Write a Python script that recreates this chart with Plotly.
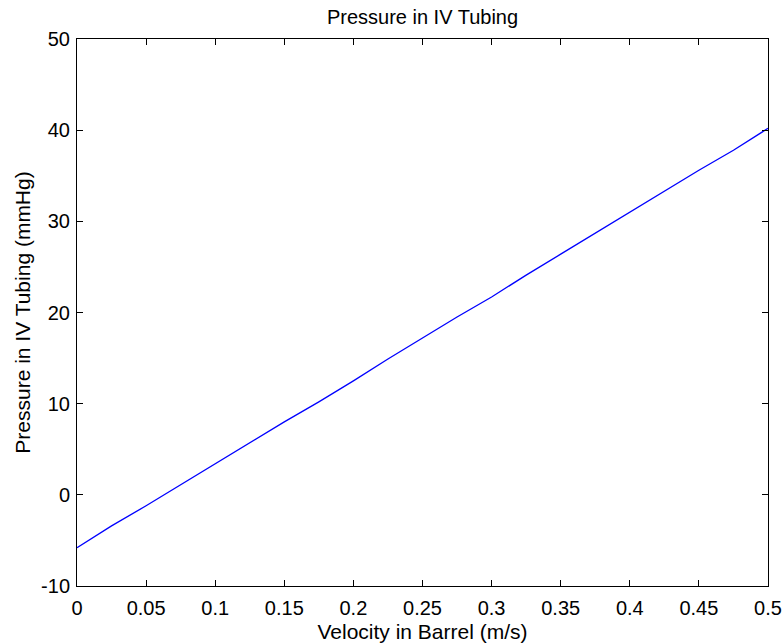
import plotly.graph_objects as go

velocity = [0, 0.025, 0.05, 0.075, 0.1, 0.125, 0.15, 0.175, 0.2, 0.225, 0.25,
            0.275, 0.3, 0.325, 0.35, 0.375, 0.4, 0.425, 0.45, 0.475, 0.5]
pressure = [-5.8, -3.4, -1.2, 1.1, 3.4, 5.7, 8.0, 10.2, 12.5, 14.9, 17.2,
            19.5, 21.7, 24.1, 26.4, 28.7, 31.0, 33.3, 35.6, 37.8, 40.2]

x_ticks = [0, 0.05, 0.1, 0.15, 0.2, 0.25, 0.3, 0.35, 0.4, 0.45, 0.5]
x_labels = ["0", "0.05", "0.1", "0.15", "0.2", "0.25", "0.3", "0.35", "0.4", "0.45", "0.5"]
y_ticks = [-10, 0, 10, 20, 30, 40, 50]
y_labels = ["-10", "0", "10", "20", "30", "40", "50"]

FONT = "Liberation Sans, Arial"
W, H = 783, 643
L, R, T, B = 77, 15, 39, 57

fig = go.Figure(go.Scatter(x=velocity, y=pressure, mode="lines",
                           line=dict(color="#0000ff", width=1.3)))

axis_common = dict(showline=True, linecolor="black", linewidth=1, mirror="ticks",
                   ticks="inside", ticklen=6, tickcolor="black", tickwidth=1,
                   showgrid=False, zeroline=False, automargin=False,
                   tickfont=dict(family=FONT, size=20, color="black"))

fig.update_layout(
    width=W, height=H,
    margin=dict(l=L, r=R, t=T, b=B),
    paper_bgcolor="white", plot_bgcolor="white",
    showlegend=False,
    title=dict(text="Pressure in IV Tubing", x=(L + W - R) / 2 / W, xanchor="center",
               y=1 - 17 / H, yanchor="middle",
               font=dict(family=FONT, size=20, color="black")),
    xaxis=dict(range=[0, 0.5], tickvals=x_ticks, ticktext=x_labels,
               ticklabelstandoff=4,
               title=dict(text="Velocity in Barrel (m/s)", standoff=6,
                          font=dict(family=FONT, size=21, color="black")),
               **axis_common),
    yaxis=dict(range=[-10, 50], tickvals=y_ticks, ticktext=y_labels,
               ticklabelstandoff=2,
               title=dict(text="Pressure in IV Tubing (mmHg)", standoff=4,
                          font=dict(family=FONT, size=21, color="black")),
               **axis_common),
)

fig.write_html("out.html", config={"displayModeBar": False},
               post_script="document.body.style.margin='0';document.body.style.overflow='hidden';")
